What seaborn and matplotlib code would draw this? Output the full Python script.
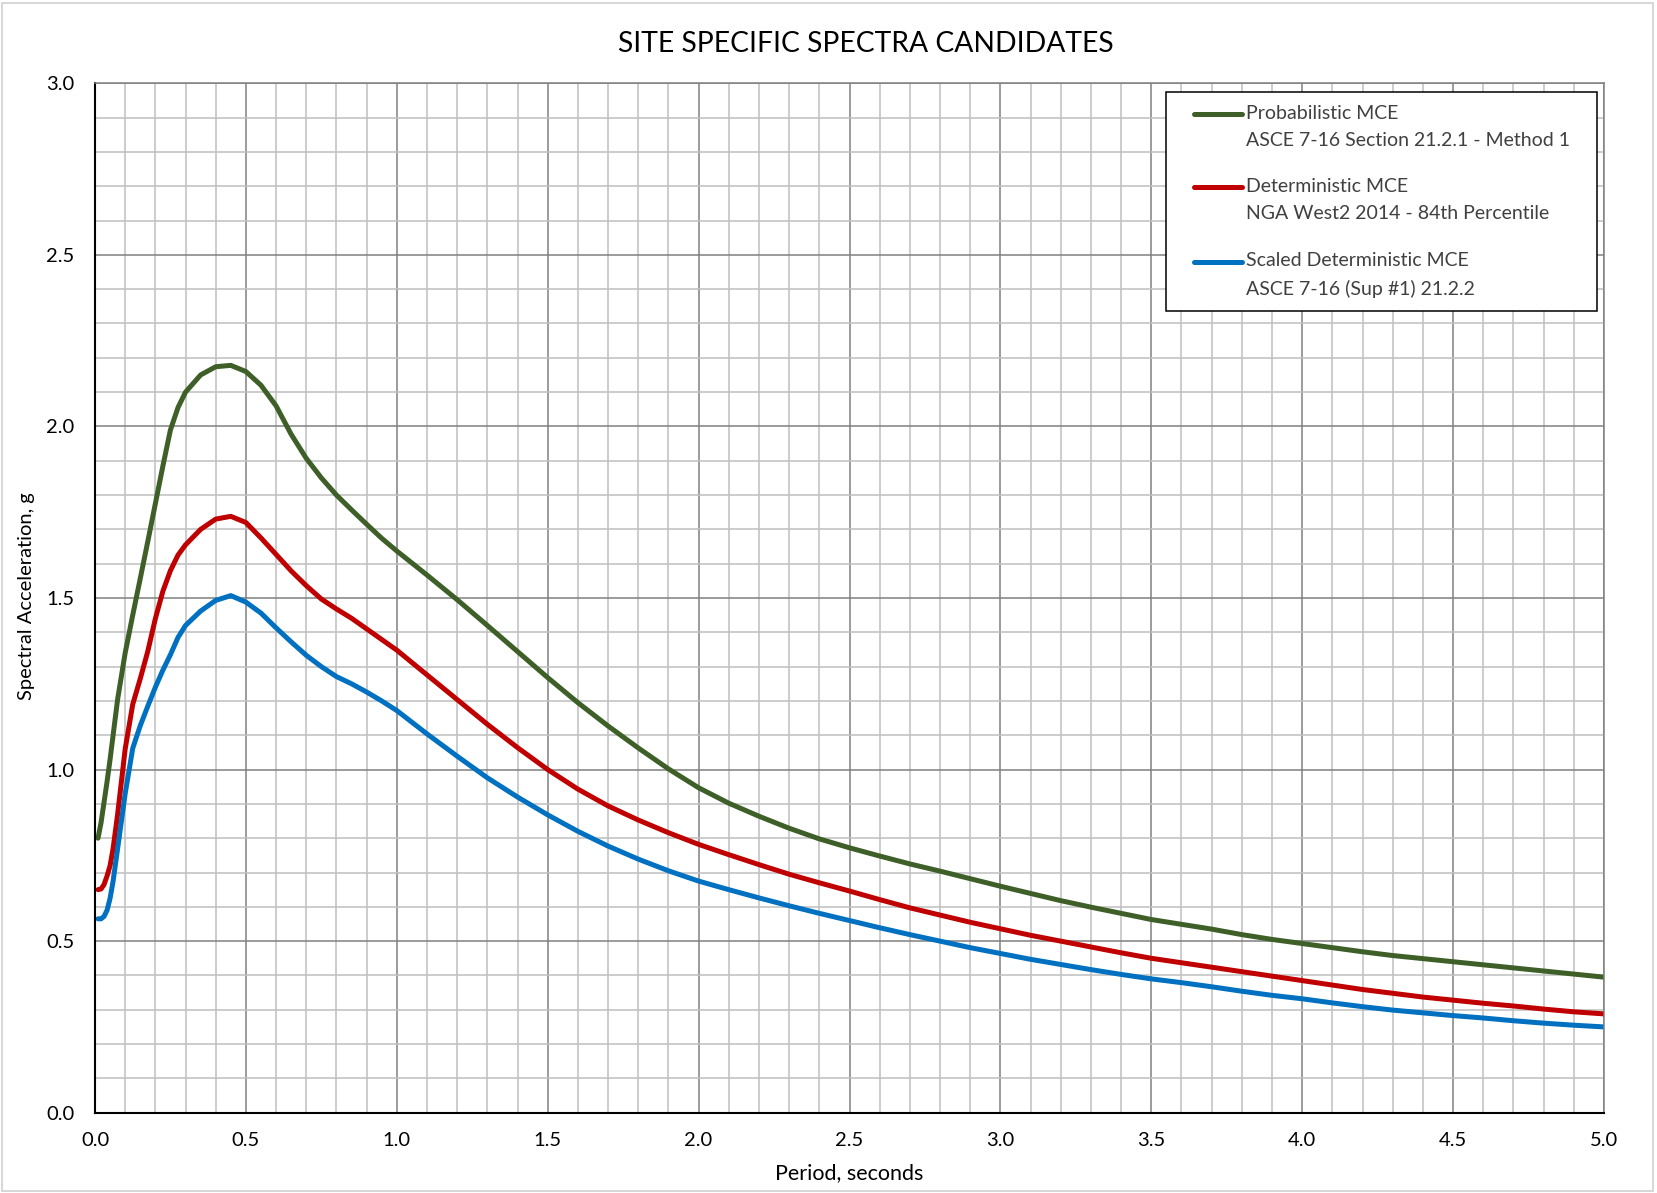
import numpy as np
import pandas as pd
import matplotlib
matplotlib.use("Agg")
import matplotlib.pyplot as plt
import seaborn as sns
from matplotlib.legend_handler import HandlerLine2D
from matplotlib.lines import Line2D
from matplotlib.patches import Rectangle
from matplotlib.ticker import MultipleLocator, FormatStrFormatter

# Spectral periods (s)
period = [0.01, 0.02, 0.03, 0.04, 0.05, 0.06, 0.075, 0.10, 0.125, 0.15, 0.175,
          0.20, 0.225, 0.25, 0.275, 0.30, 0.35, 0.40, 0.45, 0.50, 0.55, 0.60,
          0.65, 0.70, 0.75, 0.80, 0.85, 0.90, 0.95, 1.0, 1.1, 1.2, 1.3, 1.4,
          1.5, 1.6, 1.7, 1.8, 1.9, 2.0, 2.1, 2.2, 2.3, 2.4, 2.5, 2.6, 2.7, 2.8,
          2.9, 3.0, 3.1, 3.2, 3.3, 3.4, 3.5, 3.6, 3.7, 3.8, 3.9, 4.0, 4.1, 4.2,
          4.3, 4.4, 4.5, 4.6, 4.7, 4.8, 4.9, 5.0]

# Spectral accelerations (g)
probabilistic_mce = [0.80, 0.845, 0.905, 0.965, 1.03, 1.10, 1.205, 1.34, 1.45,
                     1.557, 1.665, 1.775, 1.885, 1.99, 2.055, 2.10, 2.15, 2.174,
                     2.178, 2.16, 2.12, 2.06, 1.977, 1.907, 1.85, 1.80, 1.757,
                     1.715, 1.674, 1.637, 1.567, 1.495, 1.42, 1.344, 1.268,
                     1.195, 1.127, 1.063, 1.002, 0.947, 0.902, 0.864, 0.829,
                     0.798, 0.772, 0.748, 0.725, 0.704, 0.682, 0.660, 0.639,
                     0.618, 0.599, 0.581, 0.563, 0.549, 0.535, 0.519, 0.505,
                     0.493, 0.481, 0.469, 0.458, 0.449, 0.440, 0.431, 0.422,
                     0.413, 0.404, 0.395]

deterministic_mce = [0.65, 0.652, 0.665, 0.69, 0.72, 0.77, 0.87, 1.06, 1.19,
                     1.265, 1.345, 1.44, 1.52, 1.58, 1.625, 1.655, 1.70, 1.73,
                     1.738, 1.72, 1.675, 1.627, 1.579, 1.536, 1.497, 1.468,
                     1.441, 1.41, 1.379, 1.348, 1.276, 1.204, 1.132, 1.064,
                     1.0, 0.943, 0.894, 0.853, 0.816, 0.782, 0.752, 0.723,
                     0.695, 0.670, 0.646, 0.621, 0.597, 0.576, 0.555, 0.536,
                     0.517, 0.500, 0.483, 0.466, 0.450, 0.437, 0.424, 0.411,
                     0.398, 0.385, 0.372, 0.359, 0.348, 0.337, 0.328, 0.319,
                     0.311, 0.302, 0.294, 0.288]

scaled_deterministic_mce = [0.565, 0.565, 0.572, 0.59, 0.625, 0.675, 0.77, 0.93,
                            1.062, 1.128, 1.185, 1.24, 1.29, 1.335, 1.385, 1.42,
                            1.462, 1.493, 1.507, 1.488, 1.456, 1.413, 1.372,
                            1.333, 1.30, 1.271, 1.25, 1.226, 1.20, 1.172, 1.104,
                            1.039, 0.976, 0.92, 0.868, 0.820, 0.777, 0.739,
                            0.705, 0.675, 0.650, 0.626, 0.603, 0.581, 0.560,
                            0.539, 0.519, 0.500, 0.481, 0.464, 0.447, 0.432,
                            0.417, 0.403, 0.390, 0.379, 0.367, 0.354, 0.342,
                            0.332, 0.320, 0.309, 0.299, 0.291, 0.283, 0.276,
                            0.268, 0.261, 0.255, 0.250]

series_labels = [
    "Probabilistic MCE\nASCE 7-16 Section 21.2.1 - Method 1",
    "Deterministic MCE\nNGA West2 2014 - 84th Percentile",
    "Scaled Deterministic MCE\nASCE 7-16 (Sup #1) 21.2.2",
]
series_colors = ["#3F5F29", "#C00000", "#0070C0"]
chart_title = "SITE SPECIFIC SPECTRA CANDIDATES"
x_label = "Period, seconds"
y_label = "Spectral Acceleration, g"

sns.set_theme(style="white")
plt.rcParams["font.family"] = ["Lato", "DejaVu Sans"]

df = pd.concat(
    [pd.DataFrame({"Period": period, "Sa": vals, "Spectrum": lab})
     for vals, lab in zip([probabilistic_mce, deterministic_mce,
                           scaled_deterministic_mce], series_labels)],
    ignore_index=True,
)

W, H = 1657, 1193
fig = plt.figure(figsize=(W / 100, H / 100), dpi=100)
left, right, top, bottom = 95, 1604, 83.3, 1112.7
ax = fig.add_axes([left / W, 1 - bottom / H, (right - left) / W, (bottom - top) / H])

sns.lineplot(data=df, x="Period", y="Sa", hue="Spectrum",
             hue_order=series_labels,
             palette=dict(zip(series_labels, series_colors)),
             linewidth=3.6, legend=False, ax=ax, sort=False,
             estimator=None, errorbar=None,
             solid_capstyle="round", solid_joinstyle="round")

# Axes, ticks and grid
ax.set_xlim(0, 5)
ax.set_ylim(0, 3)
ax.xaxis.set_major_locator(MultipleLocator(0.5))
ax.xaxis.set_minor_locator(MultipleLocator(0.1))
ax.yaxis.set_major_locator(MultipleLocator(0.5))
ax.yaxis.set_minor_locator(MultipleLocator(0.1))
ax.xaxis.set_major_formatter(FormatStrFormatter("%.1f"))
ax.yaxis.set_major_formatter(FormatStrFormatter("%.1f"))
ax.set_axisbelow(True)
ax.grid(which="minor", color="#BFBFBF", linewidth=1.1)
ax.grid(which="major", color="#808080", linewidth=1.1)
ax.tick_params(which="both", length=0)
ax.tick_params(axis="x", pad=14, labelsize=14.5, labelcolor="black")
ax.tick_params(axis="y", pad=15, labelsize=14.5, labelcolor="black")
for side in ("left", "bottom"):
    ax.spines[side].set_color("black")
    ax.spines[side].set_linewidth(1.5)
for side in ("top", "right"):
    ax.spines[side].set_color("#808080")
    ax.spines[side].set_linewidth(1.1)

ax.set_xlabel(x_label, fontsize=15.5, color="black", va="center")
ax.set_ylabel(y_label, fontsize=14.5, color="black", va="center")
ax.xaxis.set_label_coords(0.5, (bottom - 1173) / (bottom - top))
ax.yaxis.set_label_coords((26.5 - left) / (right - left), (bottom - 596) / (bottom - top))

fig.text(866 / W, 1 - 44 / H, chart_title, ha="center", va="center",
         fontsize=20.3, color="black")


class FirstLineHandler(HandlerLine2D):
    """Legend line drawn beside the first line of a two-line label."""

    def __init__(self, yshift, visible_len, **kw):
        super().__init__(**kw)
        self.yshift = yshift
        self.visible_len = visible_len

    def create_artists(self, legend, orig_handle, xdescent, ydescent,
                       width, height, fontsize, trans):
        artists = super().create_artists(legend, orig_handle, xdescent, ydescent,
                                         width, height, fontsize, trans)
        for a in artists:
            xd = np.asarray(a.get_xdata(), float)
            yd = np.asarray(a.get_ydata(), float)
            r = xd.max()
            a.set_xdata(np.linspace(r - self.visible_len, r, len(xd)))
            a.set_ydata(np.full(len(xd), yd[0] + self.yshift))
            a.set_solid_capstyle("round")
        return artists


lx0, ly0, lx1, ly1 = 1165.7, 91.7, 1596.7, 309
fs = 14
leg = ax.legend(handles=ax.get_lines()[:3], labels=series_labels,
                loc="upper left",
                bbox_to_anchor=(lx0 / W, 1 - ly1 / H, (lx1 - lx0) / W, (ly1 - ly0) / H),
                bbox_transform=fig.transFigure, mode="expand",
                borderaxespad=0, borderpad=0.68, handlelength=3.25,
                handletextpad=0.2, labelspacing=1.53, frameon=True,
                fancybox=False, framealpha=1, edgecolor="black", fontsize=fs,
                handler_map={Line2D: FirstLineHandler(9.6, 35)})
leg.get_frame().set_linewidth(1.1)
for t in leg.get_texts():
    t.set_linespacing(1.7)
    t.set_color("#404040")

# Chart-area border
fig.patches.append(Rectangle((2 / W, 2 / H), 1 - 6 / W, 1 - 5 / H,
                             transform=fig.transFigure, fill=False,
                             edgecolor="#D0D0D0", linewidth=1.2))

fig.savefig("out.png", dpi=100)
